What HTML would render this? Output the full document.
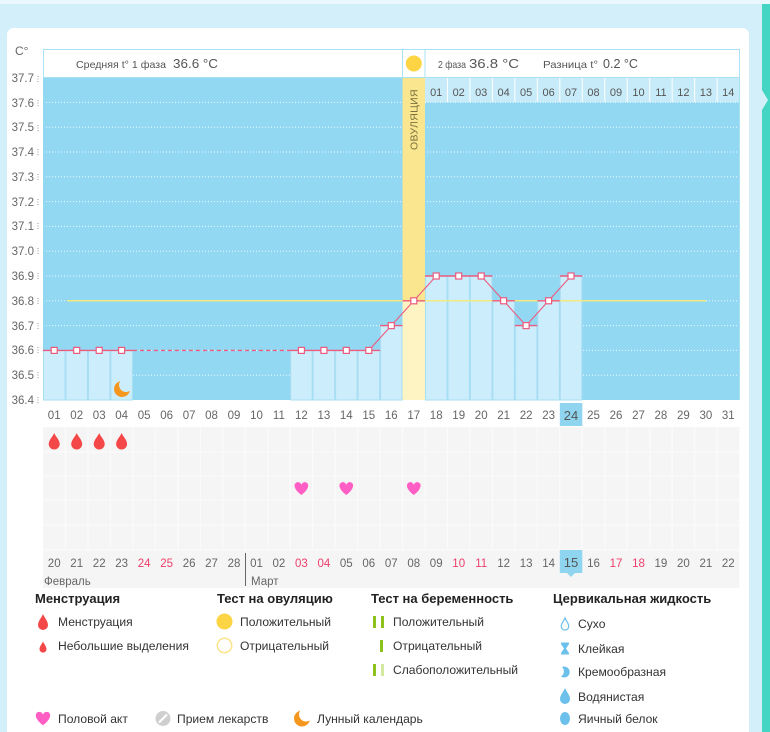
<!DOCTYPE html>
<html><head><meta charset="utf-8"><style>
html,body{margin:0;padding:0;background:#d3f0fa;}
svg{display:block;font-family:"Liberation Sans","DejaVu Sans",sans-serif;}
</style></head><body>
<svg width="770" height="732" viewBox="0 0 770 732" xmlns="http://www.w3.org/2000/svg">
<rect x="0" y="0" width="770" height="732" fill="#d3f0fa"/>
<rect x="0" y="0" width="770" height="4" fill="#eaf8fd"/>
<rect x="762" y="4" width="8" height="728" fill="#45d5c3"/>
<polygon points="762,90 768,100 762,110" fill="#d3f0fa"/>
<rect x="7" y="28" width="742" height="720" rx="7" fill="#ffffff"/>

<!-- axis labels -->
<text x="15" y="55" font-size="12" fill="#666">C°</text>
<g font-size="11.5" fill="#666" text-anchor="end">
<text x="34" y="82">37.7</text><text x="34" y="107">37.6</text><text x="34" y="131">37.5</text>
<text x="34" y="156">37.4</text><text x="34" y="181">37.3</text><text x="34" y="206">37.2</text>
<text x="34" y="230">37.1</text><text x="34" y="255">37.0</text><text x="34" y="280">36.9</text>
<text x="34" y="305">36.8</text><text x="34" y="330">36.7</text><text x="34" y="354">36.6</text>
<text x="34" y="379">36.5</text><text x="34" y="404">36.4</text>
</g>
<g stroke="#9a9a9a" stroke-width="1" stroke-dasharray="1 1.5">
<line x1="38" y1="76" x2="38" y2="82"/><line x1="38" y1="100" x2="38" y2="106"/><line x1="38" y1="125" x2="38" y2="131"/>
<line x1="38" y1="149" x2="38" y2="155"/><line x1="38" y1="174" x2="38" y2="180"/><line x1="38" y1="199" x2="38" y2="205"/>
<line x1="38" y1="223" x2="38" y2="229"/><line x1="38" y1="248" x2="38" y2="254"/><line x1="38" y1="273" x2="38" y2="279"/>
<line x1="38" y1="298" x2="38" y2="304"/><line x1="38" y1="323" x2="38" y2="329"/><line x1="38" y1="347" x2="38" y2="353"/>
<line x1="38" y1="372" x2="38" y2="378"/><line x1="38" y1="397" x2="38" y2="403"/>
</g>

<!-- plot bg -->
<rect x="43" y="77" width="696.5" height="323" fill="#93d8f2"/>
<g stroke="#ffffff" stroke-width="1" stroke-dasharray="1 2" opacity="0.85">
<line x1="46" y1="127.2" x2="737" y2="127.2"/><line x1="46" y1="152" x2="737" y2="152"/>
<line x1="46" y1="176.8" x2="737" y2="176.8"/><line x1="46" y1="201.6" x2="737" y2="201.6"/>
<line x1="46" y1="226.4" x2="737" y2="226.4"/><line x1="46" y1="251.2" x2="737" y2="251.2"/>
<line x1="46" y1="276" x2="737" y2="276"/><line x1="46" y1="300.8" x2="737" y2="300.8"/>
<line x1="46" y1="325.6" x2="737" y2="325.6"/><line x1="46" y1="350.4" x2="737" y2="350.4"/>
<line x1="46" y1="375.2" x2="737" y2="375.2"/><line x1="46" y1="102.4" x2="402" y2="102.4"/>
</g>

<!-- bars -->
<g fill="#ccedfb" stroke="#a9def3" stroke-width="1">
<rect x="43.5" y="350.4" width="21.5" height="49.6"/>
<rect x="65.97" y="350.4" width="21.5" height="49.6"/>
<rect x="88.44" y="350.4" width="21.5" height="49.6"/>
<rect x="110.91" y="350.4" width="21.5" height="49.6"/>
<rect x="290.67" y="350.4" width="21.5" height="49.6"/>
<rect x="313.14" y="350.4" width="21.5" height="49.6"/>
<rect x="335.61" y="350.4" width="21.5" height="49.6"/>
<rect x="358.08" y="350.4" width="21.5" height="49.6"/>
<rect x="380.55" y="325.6" width="21.5" height="74.4"/>
<rect x="425.49" y="276" width="21.5" height="124"/>
<rect x="447.96" y="276" width="21.5" height="124"/>
<rect x="470.43" y="276" width="21.5" height="124"/>
<rect x="492.9" y="300.8" width="21.5" height="99.2"/>
<rect x="515.37" y="325.6" width="21.5" height="74.4"/>
<rect x="537.84" y="300.8" width="21.5" height="99.2"/>
<rect x="560.31" y="276" width="21.5" height="124"/>
</g>

<!-- ovulation column -->
<rect x="402.52" y="77" width="22.47" height="223.8" fill="#f9e68e"/>
<rect x="402.52" y="300.8" width="22.47" height="99.2" fill="#fdf3c3"/>
<text transform="translate(417.5,150) rotate(-90)" font-size="10.5" fill="#7a7040" letter-spacing="0.3">ОВУЛЯЦИЯ</text>

<!-- header -->
<rect x="43.5" y="49.5" width="359" height="28" fill="#ffffff" stroke="#a9e1f5"/>
<rect x="402.5" y="49.5" width="22.5" height="28" fill="#ffffff" stroke="#a9e1f5"/>
<rect x="425" y="49.5" width="314.5" height="28" fill="#ffffff" stroke="#a9e1f5"/>
<circle cx="413.8" cy="63.5" r="8" fill="#fdd443"/>
<text x="76" y="68" font-size="10.5" fill="#555" textLength="90" lengthAdjust="spacingAndGlyphs">Средняя t° 1 фаза</text>
<text x="173" y="68" font-size="13" fill="#555" textLength="45" lengthAdjust="spacingAndGlyphs">36.6 °C</text>
<text x="438" y="68" font-size="10.5" fill="#555" textLength="28" lengthAdjust="spacingAndGlyphs">2 фаза</text>
<text x="469" y="68" font-size="13" fill="#555" textLength="50" lengthAdjust="spacingAndGlyphs">36.8 °C</text>
<text x="543" y="68" font-size="10.5" fill="#555" textLength="55" lengthAdjust="spacingAndGlyphs">Разница t°</text>
<text x="603" y="68" font-size="13" fill="#555" textLength="35" lengthAdjust="spacingAndGlyphs">0.2 °C</text>

<rect x="425" y="78" width="314.5" height="24" fill="#c8ebf9"/>
<g stroke="#ffffff" stroke-width="1">
<line x1="447.46" y1="78" x2="447.46" y2="102"/><line x1="469.93" y1="78" x2="469.93" y2="102"/>
<line x1="492.4" y1="78" x2="492.4" y2="102"/><line x1="514.87" y1="78" x2="514.87" y2="102"/>
<line x1="537.34" y1="78" x2="537.34" y2="102"/><line x1="559.81" y1="78" x2="559.81" y2="102"/>
<line x1="582.28" y1="78" x2="582.28" y2="102"/><line x1="604.75" y1="78" x2="604.75" y2="102"/>
<line x1="627.22" y1="78" x2="627.22" y2="102"/><line x1="649.69" y1="78" x2="649.69" y2="102"/>
<line x1="672.16" y1="78" x2="672.16" y2="102"/><line x1="694.63" y1="78" x2="694.63" y2="102"/>
<line x1="717.1" y1="78" x2="717.1" y2="102"/>
<line x1="425" y1="102.4" x2="739" y2="102.4" stroke-dasharray="1 1.5"/>
</g>
<line x1="739.5" y1="49.5" x2="739.5" y2="400" stroke="#a9e1f5"/>
<g font-size="11" fill="#555" text-anchor="middle">
<text x="436.2" y="96">01</text><text x="458.7" y="96">02</text><text x="481.2" y="96">03</text>
<text x="503.6" y="96">04</text><text x="526.1" y="96">05</text><text x="548.6" y="96">06</text>
<text x="571" y="96">07</text><text x="593.5" y="96">08</text><text x="616" y="96">09</text>
<text x="638.5" y="96">10</text><text x="660.9" y="96">11</text><text x="683.4" y="96">12</text>
<text x="705.9" y="96">13</text><text x="728.3" y="96">14</text>
</g>

<!-- coverline -->
<line x1="67" y1="300.8" x2="706" y2="300.8" stroke="#f1ea80" stroke-width="1.5"/>

<!-- temperature line -->
<g stroke="#ec5a7e" stroke-width="1.4" fill="none">
<line x1="43" y1="350.4" x2="132.88" y2="350.4"/>
<line x1="132.88" y1="350.4" x2="290.17" y2="350.4" stroke-dasharray="4 3"/>
<line x1="290.17" y1="350.4" x2="380.05" y2="350.4"/>
<line x1="380.05" y1="325.6" x2="402.52" y2="325.6"/>
<line x1="402.52" y1="300.8" x2="424.99" y2="300.8"/>
<line x1="424.99" y1="276" x2="492.4" y2="276"/>
<line x1="492.4" y1="300.8" x2="514.87" y2="300.8"/>
<line x1="514.87" y1="325.6" x2="537.34" y2="325.6"/>
<line x1="537.34" y1="300.8" x2="559.81" y2="300.8"/>
<line x1="559.81" y1="276" x2="582.28" y2="276"/>
<polyline stroke-width="1.1" points="368.8,350.4 391.3,325.6 413.8,300.8 436.2,276 481.2,276 503.6,300.8 526.1,325.6 548.6,300.8 571,276"/>
</g>
<g fill="#ffffff" stroke="#ec5a7e" stroke-width="1.2">
<rect x="51.2" y="347.4" width="6" height="6"/><rect x="73.7" y="347.4" width="6" height="6"/>
<rect x="96.2" y="347.4" width="6" height="6"/><rect x="118.6" y="347.4" width="6" height="6"/>
<rect x="298.4" y="347.4" width="6" height="6"/><rect x="320.9" y="347.4" width="6" height="6"/>
<rect x="343.3" y="347.4" width="6" height="6"/><rect x="365.8" y="347.4" width="6" height="6"/>
<rect x="388.3" y="322.6" width="6" height="6"/><rect x="410.8" y="297.8" width="6" height="6"/>
<rect x="433.2" y="273" width="6" height="6"/><rect x="455.7" y="273" width="6" height="6"/>
<rect x="478.2" y="273" width="6" height="6"/><rect x="500.6" y="297.8" width="6" height="6"/>
<rect x="523.1" y="322.6" width="6" height="6"/><rect x="545.6" y="297.8" width="6" height="6"/>
<rect x="568" y="273" width="6" height="6"/>
</g>

<!-- moon in chart -->
<path transform="translate(122,389)" d="M-1.9,-7.77 A8,8 0 1 0 7.77,1.9 A7,7 0 0 1 -1.9,-7.77 Z" fill="#f5961e"/>

<!-- date row 1 -->
<rect x="559.81" y="403" width="22.47" height="23" fill="#8fd5f0"/>
<g font-size="11.5" fill="#666" text-anchor="middle">
<text x="54.2" y="419">01</text><text x="76.7" y="419">02</text><text x="99.2" y="419">03</text>
<text x="121.6" y="419">04</text><text x="144.1" y="419">05</text><text x="166.6" y="419">06</text>
<text x="189.1" y="419">07</text><text x="211.5" y="419">08</text><text x="234" y="419">09</text>
<text x="256.5" y="419">10</text><text x="278.9" y="419">11</text><text x="301.4" y="419">12</text>
<text x="323.9" y="419">13</text><text x="346.3" y="419">14</text><text x="368.8" y="419">15</text>
<text x="391.3" y="419">16</text><text x="413.8" y="419">17</text><text x="436.2" y="419">18</text>
<text x="458.7" y="419">19</text><text x="481.2" y="419">20</text><text x="503.6" y="419">21</text>
<text x="526.1" y="419">22</text><text x="548.6" y="419">23</text>
<text x="571" y="420" font-size="13" fill="#555">24</text>
<text x="593.5" y="419">25</text><text x="616" y="419">26</text><text x="638.5" y="419">27</text>
<text x="660.9" y="419">28</text><text x="683.4" y="419">29</text><text x="705.9" y="419">30</text>
<text x="728.3" y="419">31</text>
</g>

<!-- lower grid -->
<rect x="43" y="427" width="696.5" height="161" fill="#f5f5f5"/>
<g stroke="#fbfbfb" stroke-width="1.2">
<line x1="43" y1="452" x2="739.5" y2="452"/><line x1="43" y1="476" x2="739.5" y2="476"/>
<line x1="43" y1="500" x2="739.5" y2="500"/><line x1="43" y1="525" x2="739.5" y2="525"/>
<line x1="43" y1="550" x2="739.5" y2="550"/>
<line x1="65.47" y1="427" x2="65.47" y2="550"/><line x1="87.94" y1="427" x2="87.94" y2="550"/>
<line x1="110.41" y1="427" x2="110.41" y2="550"/><line x1="132.88" y1="427" x2="132.88" y2="550"/>
<line x1="155.35" y1="427" x2="155.35" y2="550"/><line x1="177.82" y1="427" x2="177.82" y2="550"/>
<line x1="200.29" y1="427" x2="200.29" y2="550"/><line x1="222.76" y1="427" x2="222.76" y2="550"/>
<line x1="245.23" y1="427" x2="245.23" y2="550"/><line x1="267.7" y1="427" x2="267.7" y2="550"/>
<line x1="290.17" y1="427" x2="290.17" y2="550"/><line x1="312.64" y1="427" x2="312.64" y2="550"/>
<line x1="335.11" y1="427" x2="335.11" y2="550"/><line x1="357.58" y1="427" x2="357.58" y2="550"/>
<line x1="380.05" y1="427" x2="380.05" y2="550"/><line x1="402.52" y1="427" x2="402.52" y2="550"/>
<line x1="424.99" y1="427" x2="424.99" y2="550"/><line x1="447.46" y1="427" x2="447.46" y2="550"/>
<line x1="469.93" y1="427" x2="469.93" y2="550"/><line x1="492.4" y1="427" x2="492.4" y2="550"/>
<line x1="514.87" y1="427" x2="514.87" y2="550"/><line x1="537.34" y1="427" x2="537.34" y2="550"/>
<line x1="559.81" y1="427" x2="559.81" y2="550"/><line x1="582.28" y1="427" x2="582.28" y2="550"/>
<line x1="604.75" y1="427" x2="604.75" y2="550"/><line x1="627.22" y1="427" x2="627.22" y2="550"/>
<line x1="649.69" y1="427" x2="649.69" y2="550"/><line x1="672.16" y1="427" x2="672.16" y2="550"/>
<line x1="694.63" y1="427" x2="694.63" y2="550"/><line x1="717.1" y1="427" x2="717.1" y2="550"/>
</g>

<!-- drops -->
<g fill="#f44848">
<path transform="translate(54.2,441)" d="M0,-8 C1,-5 5.5,-1 5.5,3 A5.5,5.5 0 0 1 -5.5,3 C-5.5,-1 -1,-5 0,-8Z"/>
<path transform="translate(76.7,441)" d="M0,-8 C1,-5 5.5,-1 5.5,3 A5.5,5.5 0 0 1 -5.5,3 C-5.5,-1 -1,-5 0,-8Z"/>
<path transform="translate(99.2,441)" d="M0,-8 C1,-5 5.5,-1 5.5,3 A5.5,5.5 0 0 1 -5.5,3 C-5.5,-1 -1,-5 0,-8Z"/>
<path transform="translate(121.6,441)" d="M0,-8 C1,-5 5.5,-1 5.5,3 A5.5,5.5 0 0 1 -5.5,3 C-5.5,-1 -1,-5 0,-8Z"/>
</g>
<!-- hearts -->
<g fill="#ff5ec4">
<path transform="translate(301.4,489)" d="M0,6 C-8,0 -8,-5 -5,-6.5 C-2.5,-7.5 -0.5,-6 0,-4 C0.5,-6 2.5,-7.5 5,-6.5 C8,-5 8,0 0,6Z"/>
<path transform="translate(346.3,489)" d="M0,6 C-8,0 -8,-5 -5,-6.5 C-2.5,-7.5 -0.5,-6 0,-4 C0.5,-6 2.5,-7.5 5,-6.5 C8,-5 8,0 0,6Z"/>
<path transform="translate(413.8,489)" d="M0,6 C-8,0 -8,-5 -5,-6.5 C-2.5,-7.5 -0.5,-6 0,-4 C0.5,-6 2.5,-7.5 5,-6.5 C8,-5 8,0 0,6Z"/>
</g>

<!-- date row 2 -->
<rect x="559.81" y="550" width="22.47" height="23" fill="#8fd5f0"/>
<polygon points="567,573 575,573 571,577" fill="#8fd5f0"/>
<g font-size="11.5" fill="#666" text-anchor="middle">
<text x="54.2" y="567">20</text><text x="76.7" y="567">21</text><text x="99.2" y="567">22</text>
<text x="121.6" y="567">23</text><text x="144.1" y="567" fill="#ee3e6a">24</text><text x="166.6" y="567" fill="#ee3e6a">25</text>
<text x="189.1" y="567">26</text><text x="211.5" y="567">27</text><text x="234" y="567">28</text>
<text x="256.5" y="567">01</text><text x="278.9" y="567">02</text><text x="301.4" y="567" fill="#ee3e6a">03</text>
<text x="323.9" y="567" fill="#ee3e6a">04</text><text x="346.3" y="567">05</text><text x="368.8" y="567">06</text>
<text x="391.3" y="567">07</text><text x="413.8" y="567">08</text><text x="436.2" y="567">09</text>
<text x="458.7" y="567" fill="#ee3e6a">10</text><text x="481.2" y="567" fill="#ee3e6a">11</text><text x="503.6" y="567">12</text>
<text x="526.1" y="567">13</text><text x="548.6" y="567">14</text>
<text x="571" y="567" font-size="13" fill="#555">15</text>
<text x="593.5" y="567">16</text><text x="616" y="567" fill="#ee3e6a">17</text><text x="638.5" y="567" fill="#ee3e6a">18</text>
<text x="660.9" y="567">19</text><text x="683.4" y="567">20</text><text x="705.9" y="567">21</text>
<text x="728.3" y="567">22</text>
</g>
<line x1="245.5" y1="553" x2="245.5" y2="586" stroke="#666" stroke-width="1"/>
<text x="44" y="585" font-size="11.5" fill="#666">Февраль</text>
<text x="251" y="585" font-size="11.5" fill="#666">Март</text>

<!-- legend headers -->
<g font-size="13" font-weight="bold" fill="#222">
<text x="35" y="603">Менструация</text>
<text x="217" y="603">Тест на овуляцию</text>
<text x="371" y="603">Тест на беременность</text>
<text x="553" y="603">Цервикальная жидкость</text>
</g>
<g font-size="12.1" fill="#333">
<text x="58" y="626">Менструация</text>
<text x="58" y="650">Небольшие выделения</text>
<text x="240" y="626">Положительный</text>
<text x="240" y="650">Отрицательный</text>
<text x="393" y="626">Положительный</text>
<text x="393" y="650">Отрицательный</text>
<text x="393" y="674">Слабоположительный</text>
<text x="578" y="628">Сухо</text>
<text x="578" y="653">Клейкая</text>
<text x="578" y="676">Кремообразная</text>
<text x="578" y="701">Водянистая</text>
<text x="578" y="723">Яичный белок</text>
<text x="58" y="723">Половой акт</text>
<text x="177" y="723">Прием лекарств</text>
<text x="317" y="723">Лунный календарь</text>
</g>
<!-- legend icons -->
<path transform="translate(43,622)" d="M0,-8 C1,-5 5,-1 5,3 A5,5 0 0 1 -5,3 C-5,-1 -1,-5 0,-8Z" fill="#f44848"/>
<path transform="translate(43,647) scale(0.7)" d="M0,-8 C1,-5 5,-1 5,3 A5,5 0 0 1 -5,3 C-5,-1 -1,-5 0,-8Z" fill="#f44848"/>
<circle cx="224.5" cy="621.5" r="8" fill="#fdd443"/>
<circle cx="224.5" cy="645.5" r="7.2" fill="#ffffff" stroke="#fde48a" stroke-width="1.5"/>
<rect x="373" y="616" width="3" height="12" fill="#8dc21f"/>
<rect x="381" y="616" width="3" height="12" fill="#8dc21f"/>
<rect x="380" y="640" width="3" height="12" fill="#8dc21f"/>
<rect x="373" y="664" width="3" height="12" fill="#8dc21f"/>
<rect x="381" y="664" width="3" height="12" fill="#d5e8a0"/>
<path transform="translate(565,624) scale(0.75)" d="M0,-8 C1,-5 5,-1 5,3 A5,5 0 0 1 -5,3 C-5,-1 -1,-5 0,-8Z" fill="#ffffff" stroke="#6cc0ec" stroke-width="1.6"/>
<path transform="translate(565,648.5)" d="M-4,-6 H4 V-4.5 L1,0 L4,4.5 V6 H-4 V4.5 L-1,0 L-4,-4.5Z" fill="#6cc0ec"/>
<path transform="translate(565,672)" d="M-3,-5 A5.5,5.5 0 1 1 -4,4.5 A6,6 0 0 0 -3,-5Z" fill="#6cc0ec"/>
<path transform="translate(565,696)" d="M0,-8 C1,-5 5,-1 5,3 A5,5 0 0 1 -5,3 C-5,-1 -1,-5 0,-8Z" fill="#6cc0ec"/>
<ellipse cx="565" cy="718.5" rx="5" ry="6.5" fill="#6cc0ec"/>
<path transform="translate(43,719) scale(1.05)" d="M0,6 C-8,0 -8,-5 -5,-6.5 C-2.5,-7.5 -0.5,-6 0,-4 C0.5,-6 2.5,-7.5 5,-6.5 C8,-5 8,0 0,6Z" fill="#ff5ec4"/>
<circle cx="163" cy="718.5" r="7.5" fill="#cfcfcf"/>
<line x1="159" y1="722.5" x2="167" y2="714.5" stroke="#ffffff" stroke-width="2"/>
<path transform="translate(302,718.5)" d="M-1.9,-7.77 A8,8 0 1 0 7.77,1.9 A7,7 0 0 1 -1.9,-7.77 Z" fill="#f5961e"/>
</svg>
</body></html>
